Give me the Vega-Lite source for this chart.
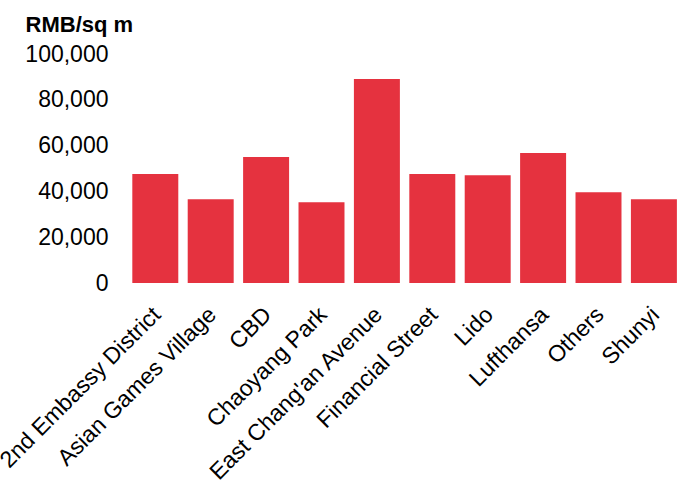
{
  "$schema": "https://vega.github.io/schema/vega-lite/v6.json",
  "width": 554,
  "height": 229,
  "autosize": "none",
  "padding": {"left": 127.6, "top": 54, "right": 4.4, "bottom": 198},
  "background": "white",
  "title": {
    "text": "RMB/sq m",
    "anchor": "start",
    "frame": "group",
    "dx": -102,
    "offset": -10.5,
    "baseline": "alphabetic",
    "font": "Liberation Sans",
    "fontSize": 22,
    "fontWeight": "bold",
    "color": "black"
  },
  "data": {
    "values": [
      {"district": "2nd Embassy District", "price": 47600},
      {"district": "Asian Games Village", "price": 36550},
      {"district": "CBD", "price": 55000},
      {"district": "Chaoyang Park", "price": 35240},
      {"district": "East Chang'an Avenue", "price": 89100},
      {"district": "Financial Street", "price": 47600},
      {"district": "Lido", "price": 47030},
      {"district": "Lufthansa", "price": 56800},
      {"district": "Others", "price": 39600},
      {"district": "Shunyi", "price": 36550}
    ]
  },
  "mark": {"type": "bar", "color": "#E5323F"},
  "encoding": {
    "x": {
      "field": "district",
      "type": "nominal",
      "sort": null,
      "scale": {"paddingInner": 0.17, "paddingOuter": 0.085},
      "axis": {
        "title": null,
        "labelAngle": -45,
        "labelFont": "Liberation Sans",
        "labelFontSize": 23,
        "labelColor": "black",
        "labelPadding": 20,
        "labelOffset": -6,
        "ticks": false,
        "domain": false,
        "grid": false,
        "labelOverlap": false,
        "labelLimit": 400
      }
    },
    "y": {
      "field": "price",
      "type": "quantitative",
      "scale": {"domain": [0, 100000], "nice": false},
      "axis": {
        "title": null,
        "values": [0, 20000, 40000, 60000, 80000, 100000],
        "format": ",d",
        "labelFont": "Liberation Sans",
        "labelFontSize": 23,
        "labelColor": "black",
        "labelPadding": 19.6,
        "ticks": false,
        "domain": false,
        "grid": false
      }
    }
  },
  "config": {"view": {"stroke": null}}
}
